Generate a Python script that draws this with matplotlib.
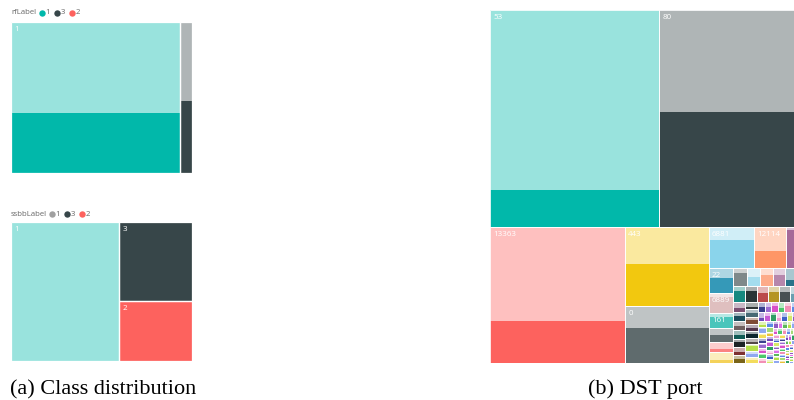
import matplotlib
matplotlib.use('Agg')
import matplotlib.pyplot as plt
from matplotlib.patches import Rectangle
from matplotlib.colors import to_rgb

# ---------------- data ----------------
rf_labels = ['1', '3']
rf_values = [93.4, 6.6]
rf_highlight = [0.40, 0.48]
rf_colors = ['#01B8AA', '#374649']
rf_legend = ['1', '3', '2']
rf_legend_colors = ['#01B8AA', '#374649', '#FD625E']

ssbb_labels = ['1', '3', '2']
ssbb_values = [59.7, 22.9, 17.4]
ssbb_highlight = [0.0, 1.0, 1.0]
ssbb_colors = ['#01B8AA', '#374649', '#FD625E']
ssbb_legend = ['1', '3', '2']
ssbb_legend_colors = ['#A0A0A0', '#374649', '#FD625E']

port_labels = ['53', '80', '13363', '443', '0', '6881', '12114', '', '22', '6889', '161', '', '', '']
port_values = [36100, 31894, 18150, 6560, 4715, 1840, 1320, 900, 600, 480, 340, 335, 258, 252]
port_highlight = [0.17, 0.53, 0.31, 0.53, 0.61, 0.67, 0.41, 0.92, 0.60, 0.80, 0.75, 0.50, 0.30, 0.30]

small_values = [
    246, 236, 228, 216, 206, 198, 190, 184, 178, 170, 164, 158,
    130, 124, 118, 112, 108, 104, 100, 96, 93, 90, 87, 84, 82, 80, 78, 76, 74, 72,
    70, 68, 66, 64, 62, 60, 58, 56, 55, 54, 52, 51, 50, 49, 48, 47, 46, 45, 44, 43,
    42, 41, 40, 39, 38, 37, 36, 35, 34, 33, 32, 32, 31, 30, 30, 29, 29, 28, 28, 27,
    27, 26, 26, 25, 25, 24, 24, 23, 23, 22, 22, 21, 21, 20, 20, 20, 19, 19, 19, 18,
    18, 18, 17, 17, 17, 16, 16, 16, 15, 15, 15, 15, 14, 14, 14, 14, 13, 13, 13, 13,
    12, 12, 12, 12, 11, 11, 11, 11, 10, 10, 10, 10, 10, 9, 9, 9, 9, 9, 8, 8,
    8, 8, 8, 8, 7, 7, 7, 7, 7, 7, 6, 6, 6, 6, 6, 6, 6, 5, 5, 5,
    5, 5, 5, 5, 5, 5, 4, 4, 4, 4, 4, 4, 4, 4, 4, 4, 3, 3, 3, 3,
    3, 3, 3, 3, 3, 3, 3, 3, 3, 3, 3, 3, 3, 3, 3, 3, 3, 3, 3, 3,
]
small_highlight = [
    0.70, 0.50, 0.60, 0.60, 0.30, 0.50, 0.65, 0.65, 0.55, 0.60, 0.60, 0.50,
    0.60, 0.40, 0.55, 0.50, 0.45, 0.60, 0.40, 0.50, 0.35, 0.55, 0.60, 0.45, 0.50, 0.40, 0.65, 0.50, 0.55, 0.45,
    0.50, 0.60, 0.40, 0.55, 0.45, 0.60, 0.50, 0.35, 0.55, 0.65, 0.40, 0.50, 0.60, 0.45, 0.55, 0.50, 0.40, 0.60, 0.50, 0.45,
    0.55, 0.40, 0.60, 0.50, 0.45, 0.65, 0.50, 0.40, 0.55, 0.60, 0.45, 0.50, 0.35, 0.60, 0.55, 0.50, 0.40, 0.60, 0.45, 0.50,
    0.60, 0.45, 0.50, 0.55, 0.40, 0.60, 0.50, 0.45, 0.55, 0.65, 0.50, 0.40, 0.60, 0.45, 0.50, 0.55, 0.40, 0.60, 0.50, 0.45,
    0.50, 0.60, 0.40, 0.55, 0.45, 0.60, 0.50, 0.35, 0.55, 0.65, 0.40, 0.50, 0.60, 0.45, 0.55, 0.50, 0.40, 0.60, 0.50, 0.45,
    0.55, 0.40, 0.60, 0.50, 0.45, 0.65, 0.50, 0.40, 0.55, 0.60, 0.45, 0.50, 0.35, 0.60, 0.55, 0.50, 0.40, 0.60, 0.45, 0.50,
    0.60, 0.45, 0.50, 0.55, 0.40, 0.60, 0.50, 0.45, 0.55, 0.65, 0.50, 0.40, 0.60, 0.45, 0.50, 0.55, 0.40, 0.60, 0.50, 0.45,
    0.50, 0.60, 0.40, 0.55, 0.45, 0.60, 0.50, 0.35, 0.55, 0.65, 0.40, 0.50, 0.60, 0.45, 0.55, 0.50, 0.40, 0.60, 0.50, 0.45,
    0.55, 0.40, 0.60, 0.50, 0.45, 0.65, 0.50, 0.40, 0.55, 0.60, 0.45, 0.50, 0.35, 0.60, 0.55, 0.50, 0.40, 0.60, 0.45, 0.50,
]

# ---------------- style ----------------
palette = ['#01B8AA', '#374649', '#FD625E', '#F2C80F', '#5F6B6D', '#8AD4EB', '#FE9666', '#A66999',
           '#3599B8', '#DFBFBF', '#4AC5BB', '#5F6B6D', '#FB8281', '#F4D25A', '#7F898A', '#A4DDEE',
           '#FDAB89', '#B687AC', '#28738A', '#A78F8F', '#168980', '#293537', '#BB4A4A', '#B59525',
           '#475052', '#6A9FB0', '#BD7150', '#7B4F71', '#1B4D5C', '#706060', '#0F5C55', '#1C2325',
           '#7D3231', '#796419', '#303637', '#476A75', '#7E4B36', '#52354C', '#0D262E', '#544848']
extra = ['#B6E04A', '#8FA8F0', '#F3DC5C', '#3A3F8F', '#9B6BD1', '#D94FC8', '#4CC76A', '#F28FB5',
         '#5C8AE6', '#A3D977', '#E8C23A', '#6E4AB8', '#C75AD6', '#2E9E63', '#F0A0D0', '#4062C9',
         '#D6E86A', '#8E5AC2', '#E070E8', '#5BB85B']

FW, FH = 794, 400
PHI = (1 + 5 ** 0.5) / 2
UI_FONT = ['Open Sans', 'DejaVu Sans']


def light(c):
    r, g, b = to_rgb(c)
    return (0.6 + 0.4 * r, 0.6 + 0.4 * g, 0.6 + 0.4 * b)


def squarify(values, x0, y0, x1, y1, ratio=PHI):
    rects = []
    remaining = float(sum(values))
    i0, n = 0, len(values)
    while i0 < n:
        dx, dy = x1 - x0, y1 - y0
        i1 = i0 + 1
        s = values[i0]
        vmin = vmax = s
        alpha = max(dy / dx, dx / dy) / (remaining * ratio)
        beta = s * s * alpha
        best = max(vmax / beta, beta / vmin)
        while i1 < n:
            v = values[i1]
            s2 = s + v
            mn, mx = min(vmin, v), max(vmax, v)
            beta = s2 * s2 * alpha
            r = max(mx / beta, beta / mn)
            if r > best:
                break
            s, vmin, vmax, best = s2, mn, mx, r
            i1 += 1
        row = values[i0:i1]
        if dx < dy:
            h = dy * s / remaining
            x = x0
            for v in row:
                w = dx * v / s
                rects.append((x, y0, w, h))
                x += w
            y0 += h
        else:
            w = dx * s / remaining
            y = y0
            for v in row:
                h = dy * v / s
                rects.append((x0, y, w, h))
                y += h
            x0 += w
        remaining -= s
        i0 = i1
    return rects


def make_ax(fig, left, top, w, h):
    ax = fig.add_axes([left / FW, 1 - (top + h) / FH, w / FW, h / FH])
    ax.set_xlim(0, w)
    ax.set_ylim(h, 0)
    ax.axis('off')
    return ax


def draw_treemap(ax, w, h, values, highlight, colors, labels, lw=0.9, fs=5.8):
    rects = squarify(values, 0, 0, w, h)
    for (x, y, rw, rh), frac, c in zip(rects, highlight, colors):
        ax.add_patch(Rectangle((x, y), rw, rh, facecolor=light(c), edgecolor='none'))
        hh = rh * frac
        ax.add_patch(Rectangle((x, y + rh - hh), rw, hh, facecolor=c, edgecolor='none'))
    for (x, y, rw, rh) in rects:
        ax.add_patch(Rectangle((x, y), rw, rh, facecolor='none', edgecolor='white', lw=lw))
    for (x, y, rw, rh), lab in zip(rects, labels):
        if lab and rw > 14 and rh > 12:
            ax.text(x + 3.5, y + 4, lab, color='white', fontsize=fs, va='top', ha='left',
                    family=UI_FONT, clip_on=True)


fig = plt.figure(figsize=(FW / 100, FH / 100), dpi=100)
bg = fig.add_axes([0, 0, 1, 1])
bg.set_xlim(0, FW)
bg.set_ylim(FH, 0)
bg.axis('off')


def legend(y, title, labels, colors, x_first):
    bg.text(11, y, title, fontsize=5.6, color='#666666', va='center', ha='left', family=UI_FONT)
    x = x_first
    for lab, c in zip(labels, colors):
        bg.plot([x], [y], 'o', ms=4.6, color=c, mec='none')
        bg.text(x + 3.6, y, lab, fontsize=5.6, color='#666666', va='center', ha='left', family=UI_FONT)
        x += 15


legend(13, 'rfLabel', rf_legend, rf_legend_colors, 42)
legend(214, 'ssbbLabel', ssbb_legend, ssbb_legend_colors, 52)

# treemaps
ax1 = make_ax(fig, 11, 22, 181, 151)
draw_treemap(ax1, 181, 151, rf_values, rf_highlight, rf_colors, rf_labels)

ax2 = make_ax(fig, 11, 222, 181, 139)
draw_treemap(ax2, 181, 139, ssbb_values, ssbb_highlight, ssbb_colors, ssbb_labels)

all_values = port_values + small_values
all_highlight = port_highlight + small_highlight
all_labels = port_labels + [''] * len(small_values)
all_colors = [palette[i] if i < len(palette) else extra[(i - len(palette)) % len(extra)]
              for i in range(len(all_values))]
ax3 = make_ax(fig, 490, 10, 318, 353)
draw_treemap(ax3, 318, 353, all_values, all_highlight, all_colors, all_labels, lw=0.6)

# captions
bg.text(10, 394, '(a) Class distribution', fontsize=16, family=['Liberation Serif', 'DejaVu Serif'],
        va='baseline', ha='left', color='black')
bg.text(588, 394, '(b) DST port', fontsize=16, family=['Liberation Serif', 'DejaVu Serif'],
        va='baseline', ha='left', color='black')

fig.savefig('out.png', dpi=100)
